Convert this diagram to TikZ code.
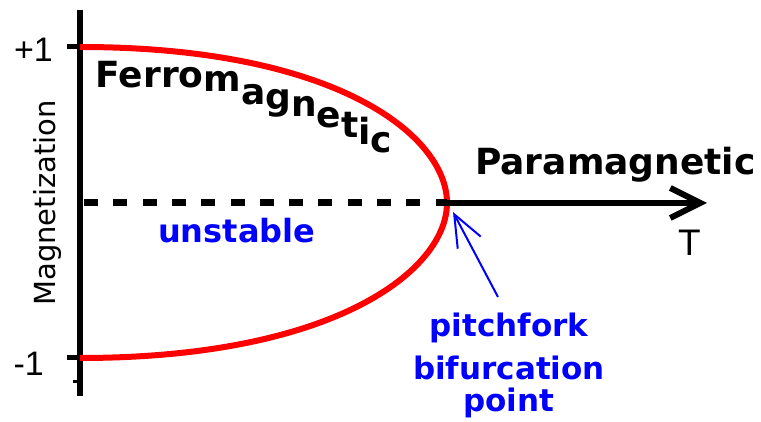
\documentclass[tikz,border=0pt]{standalone}
\usepackage{fontspec}
\setmainfont{DejaVu Sans}
\newfontfamily\arialfont{Liberation Sans}
\usetikzlibrary{arrows.meta}

\begin{document}
\begin{tikzpicture}[x=10pt, y=10pt,
    axis/.style={line width=5.5pt},
    tickmark/.style={line width=5pt},
    ticklabel/.style={font=\arialfont\fontsize{34}{34}\selectfont, inner sep=0pt},
    bluetext/.style={text=blue, font=\bfseries\fontsize{31}{37}\selectfont, inner sep=0pt}]
            \useasboundingbox (-8,-21.9) rectangle (68.1,20.3);

            % 坐标轴
            \draw[axis] (0,-19.3) -- (0,19.3);
            \draw[tickmark] (0,15.6) -- (-1.3,15.6);
            \draw[tickmark] (0,-15.5) -- (-1.3,-15.5);
            \draw[line width=3pt] (0,-17.9) -- (-0.7,-17.9);
            \node[ticklabel, anchor=east] (plusone) at (-2.7,15.35) {+1};
            \node[ticklabel, anchor=east] (minusone) at (-3.6,-16.05) {-1};
            \node[rotate=90, inner sep=0pt, font=\fontsize{29}{29}\selectfont] (magn) at (-3.25,0) {Magnetization};

            % 磁化曲线（叉形分岔）
            \coordinate (tc) at (36.7,0);
            \draw[red, line width=6pt] (0,15.6) .. controls (25.7,15.6) and (36.7,6.7) .. (tc)
                .. controls (36.7,-6.6) and (25.7,-15.5) .. (0,-15.5);

            % 温度轴：不稳定部分为虚线
            \coordinate (tend) at (62.7,0);
            \draw[line width=7pt, dash pattern=on 14pt off 15.3pt, dash phase=25.3pt] (0,0) -- (tc);
            \draw[line width=6pt, -{Straight Barb[length=30pt,width=30pt]}] (tc) -- (tend);
            \node[inner sep=0pt, font=\arialfont\fontsize{37}{37}\selectfont] (tlabel) at (60.95,-4.0) {T};

            % 相的标注
            \node[anchor=base west, inner sep=0pt, font=\bfseries\fontsize{36}{36}\selectfont] (ferro) at (1.55,11.5)
                {Ferro\raisebox{-4pt}{m}\raisebox{-17pt}{a}\raisebox{-22pt}{g}\raisebox{-29pt}{n}\raisebox{-40pt}{e}\raisebox{-50pt}{t}\raisebox{-57pt}{i}\raisebox{-65pt}{c}};
            \node[anchor=base west, inner sep=0pt, font=\bfseries\fontsize{36}{36}\selectfont] (para) at (39.5,2.8) {Paramagnetic};
            \node[bluetext, anchor=base west, font=\bfseries\fontsize{32}{32}\selectfont] (unstable) at (7.8,-4.0) {unstable};

            % 分岔点
            \coordinate (bifpt) at (37.3,-0.9);
            \node[bluetext, anchor=north, align=center] (bifl) at (42.9,-11.0) {pitchfork\\[6pt]bifurcation\\[-5pt]point};
            \draw[blue, line width=2pt, -{Straight Barb[length=32pt,width=26pt]}] ([shift={(-11pt,16pt)}]bifl.north) -- (bifpt);
        \end{tikzpicture}
\end{document}
